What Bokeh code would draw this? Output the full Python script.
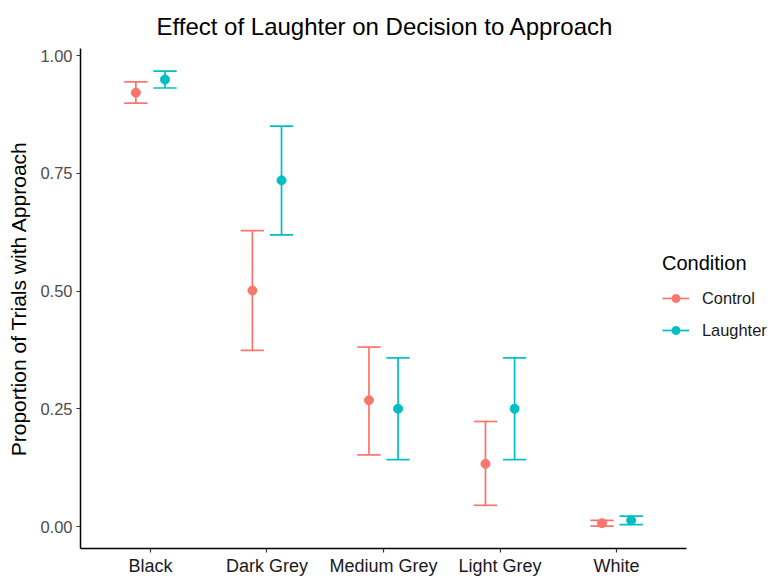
from bokeh.plotting import figure
from bokeh.models import (ColumnDataSource, FixedTicker, Legend, LegendItem, Range1d)
from bokeh.embed import file_html
from bokeh.resources import INLINE

categories = ["Black", "Dark Grey", "Medium Grey", "Light Grey", "White"]
conditions = ["Control", "Laughter"]
colors = ["#F8766D", "#00BFC4"]

control_mean = [0.921, 0.501, 0.268, 0.133, 0.007]
control_lower = [0.899, 0.374, 0.152, 0.045, 0.001]
control_upper = [0.944, 0.628, 0.381, 0.223, 0.013]

laughter_mean = [0.949, 0.735, 0.250, 0.250, 0.013]
laughter_lower = [0.931, 0.619, 0.142, 0.142, 0.004]
laughter_upper = [0.967, 0.850, 0.358, 0.358, 0.022]

y_ticks = [0.0, 0.25, 0.5, 0.75, 1.0]
y_tick_labels = ["0.00", "0.25", "0.50", "0.75", "1.00"]

FONT = "Liberation Sans"
DODGE = 0.125
CAP = 0.1

# the frame runs to the right edge so that the legend (which overlaps the
# end of the x axis in the original) is not clipped; the axis line itself is
# bounded to the discrete range 0.4 .. 5.6
PX_PER_UNIT = 606 / 5.2
FRAME_W = 691
p = figure(
    frame_width=FRAME_W, frame_height=500,
    min_border_left=80, min_border_right=0, min_border_top=48, min_border_bottom=29,
    x_range=Range1d(0.4, 0.4 + FRAME_W / PX_PER_UNIT), y_range=Range1d(-0.0467, 1.0149),
    output_backend="svg", toolbar_location=None, tools="",
    title="Effect of Laughter on Decision to Approach",
)
p.outline_line_color = None
p.background_fill_color = "white"
p.border_fill_color = "white"
p.xgrid.visible = False
p.ygrid.visible = False

p.title.align = "left"
p.title.offset = 76
p.title.standoff = 17
p.title.text_font = FONT
p.title.text_font_size = "24px"
p.title.text_font_style = "normal"
p.title.text_color = "black"

# axes
p.xaxis.ticker = FixedTicker(ticks=[1, 2, 3, 4, 5])
p.xaxis.major_label_overrides = {i + 1: c for i, c in enumerate(categories)}
p.xaxis.bounds = (0.4, 5.6)
p.yaxis.ticker = FixedTicker(ticks=y_ticks)
p.yaxis.major_label_overrides = {t: l for t, l in zip(y_ticks, y_tick_labels)}
for ax in (p.xaxis[0], p.yaxis[0]):
    ax.axis_line_color = "black"
    ax.axis_line_width = 1.5
    ax.major_tick_line_color = "#333333"
    ax.major_tick_line_width = 1.2
    ax.major_tick_out = 4
    ax.major_tick_in = 0
    ax.minor_tick_line_color = None
    ax.major_label_text_font = FONT
p.xaxis.major_label_text_font_size = "18px"
p.xaxis.major_label_text_color = "#1a1a1a"
p.xaxis.major_label_standoff = 3
p.yaxis.major_label_text_font_size = "16.5px"
p.yaxis.major_label_text_color = "#4d4d4d"
p.yaxis.major_label_standoff = 4
p.yaxis.axis_label = "Proportion of Trials with Approach"
p.yaxis.axis_label_text_font = FONT
p.yaxis.axis_label_text_font_size = "21px"
p.yaxis.axis_label_text_font_style = "normal"
p.yaxis.axis_label_text_color = "black"
p.yaxis.axis_label_standoff = 7

series = [
    (control_mean, control_lower, control_upper, -DODGE),
    (laughter_mean, laughter_lower, laughter_upper, DODGE),
]

items = []
for (mean, lower, upper, off), cond, col in zip(series, conditions, colors):
    x = [i + 1 + off for i in range(len(categories))]
    src = ColumnDataSource(dict(
        x=x, x0=[v - CAP for v in x], x1=[v + CAP for v in x],
        mean=mean, lower=lower, upper=upper,
    ))
    stem = p.segment(x0="x", y0="lower", x1="x", y1="upper", source=src,
                     line_color=col, line_width=1.7)
    p.segment(x0="x0", y0="upper", x1="x1", y1="upper", source=src,
              line_color=col, line_width=1.7)
    p.segment(x0="x0", y0="lower", x1="x1", y1="lower", source=src,
              line_color=col, line_width=1.7)
    pts = p.scatter(x="x", y="mean", source=src, size=9,
                    fill_color=col, line_color=col)
    items.append(LegendItem(label=cond, renderers=[stem, pts]))

legend = Legend(
    items=items, location=(582, 208),
    title="Condition", title_text_font=FONT, title_text_font_size="20px",
    title_text_font_style="normal", title_text_color="black", title_standoff=13,
    label_text_font=FONT, label_text_font_size="16.4px", label_text_color="#1a1a1a",
    glyph_width=27, glyph_height=20, label_height=20, label_standoff=13, spacing=12,
    padding=0, margin=0, border_line_color=None, background_fill_alpha=0,
)
p.add_layout(legend, "center")

open("out.html", "w").write(file_html(p, INLINE))
